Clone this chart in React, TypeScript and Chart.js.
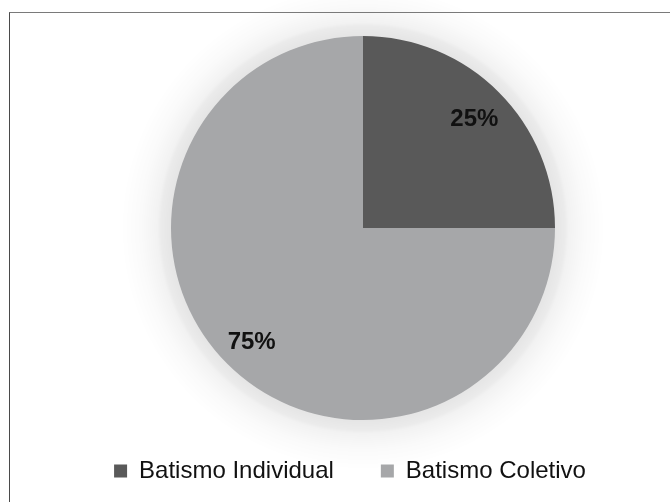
import React, { useEffect, useRef } from "react";
import { Chart, registerables } from "chart.js";

Chart.register(...registerables);

// Chart data
const categories: string[] = ["Batismo Individual", "Batismo Coletivo"];
const shares: number[] = [25, 75];
const sliceColors: string[] = ["#595959", "#a6a7a9"];

const FONT = "'Liberation Sans', Arial, Helvetica, sans-serif";

// Soft grey glow painted behind the pie
const haloPlugin = {
  id: "halo",
  beforeDatasetsDraw(chart: any) {
    const arc = chart.getDatasetMeta(0).data[0];
    if (!arc) return;
    const { x, y, outerRadius } = arc.getProps(["x", "y", "outerRadius"], true);
    const ctx = chart.ctx as CanvasRenderingContext2D;
    const spread = 50;
    const g = ctx.createRadialGradient(x, y, outerRadius, x, y, outerRadius + spread);
    g.addColorStop(0, "rgba(0,0,0,0.10)");
    g.addColorStop(0.2, "rgba(0,0,0,0.08)");
    g.addColorStop(0.27, "rgba(0,0,0,0.05)");
    g.addColorStop(0.6, "rgba(0,0,0,0.02)");
    g.addColorStop(1, "rgba(0,0,0,0)");
    ctx.save();
    ctx.fillStyle = g;
    ctx.beginPath();
    ctx.arc(x, y, outerRadius + spread, 0, Math.PI * 2);
    ctx.fill();
    ctx.restore();
  },
};

// Percentage labels inside each slice
const percentLabelPlugin = {
  id: "percentLabels",
  afterDatasetsDraw(chart: any) {
    const meta = chart.getDatasetMeta(0);
    const values: number[] = chart.data.datasets[0].data;
    const ctx = chart.ctx as CanvasRenderingContext2D;
    ctx.save();
    ctx.font = `bold 24px ${FONT}`;
    ctx.fillStyle = "#111";
    ctx.textAlign = "center";
    ctx.textBaseline = "middle";
    meta.data.forEach((el: any, i: number) => {
      const { x, y, startAngle, endAngle, outerRadius } = el.getProps(
        ["x", "y", "startAngle", "endAngle", "outerRadius"],
        true
      );
      const mid = (startAngle + endAngle) / 2;
      const d = outerRadius * 0.82;
      ctx.fillText(`${values[i]}%`, x + Math.cos(mid) * d, y + Math.sin(mid) * d + 3);
    });
    ctx.restore();
  },
};

// Legend row under the pie: square swatch + label
const legendRowPlugin = {
  id: "legendRow",
  afterDraw(chart: any) {
    const ctx = chart.ctx as CanvasRenderingContext2D;
    const labels: string[] = chart.data.labels;
    const colors: string[] = chart.data.datasets[0].backgroundColor;
    const box = 13;
    const boxGap = 12;
    const itemGap = 47;
    const centerX = 350;
    const centerY = 471;
    ctx.save();
    ctx.font = `24px ${FONT}`;
    const widths = labels.map((t) => box + boxGap + ctx.measureText(t).width);
    const total = widths.reduce((a, b) => a + b, 0) + itemGap * (labels.length - 1);
    let x = centerX - total / 2;
    ctx.textBaseline = "middle";
    ctx.textAlign = "left";
    labels.forEach((t, i) => {
      ctx.fillStyle = colors[i];
      ctx.fillRect(x, centerY - box / 2, box, box);
      ctx.fillStyle = "#111";
      ctx.fillText(t, x + box + boxGap, centerY);
      x += widths[i] + itemGap;
    });
    ctx.restore();
  },
};

export default function App() {
  const canvasRef = useRef<HTMLCanvasElement | null>(null);

  useEffect(() => {
    document.body.style.margin = "0";
    const canvas = canvasRef.current;
    if (!canvas) return;
    const chart = new Chart(canvas, {
      type: "pie",
      data: {
        labels: categories,
        datasets: [
          {
            data: shares,
            backgroundColor: sliceColors,
            borderWidth: 0,
            hoverOffset: 0,
          },
        ],
      },
      options: {
        responsive: false,
        animation: false,
        devicePixelRatio: 1,
        layout: { padding: { left: 171, right: 115, top: 36, bottom: 82 } },
        plugins: {
          legend: { display: false },
          tooltip: { enabled: false },
        },
      },
      plugins: [haloPlugin, percentLabelPlugin, legendRowPlugin],
    });
    return () => chart.destroy();
  }, []);

  return (
    <div
      style={{
        position: "fixed",
        left: 0,
        top: 0,
        width: 670,
        height: 502,
        background: "#fff",
        overflow: "hidden",
      }}
    >
      <canvas
        ref={canvasRef}
        width={670}
        height={502}
        style={{ position: "absolute", left: 0, top: 0, width: 670, height: 502 }}
      />
      <div
        style={{
          position: "absolute",
          left: 9,
          top: 12,
          right: 0,
          bottom: 0,
          borderTop: "1px solid #7a7a7a",
          borderLeft: "1px solid #4a4a4a",
          pointerEvents: "none",
        }}
      />
    </div>
  );
}
